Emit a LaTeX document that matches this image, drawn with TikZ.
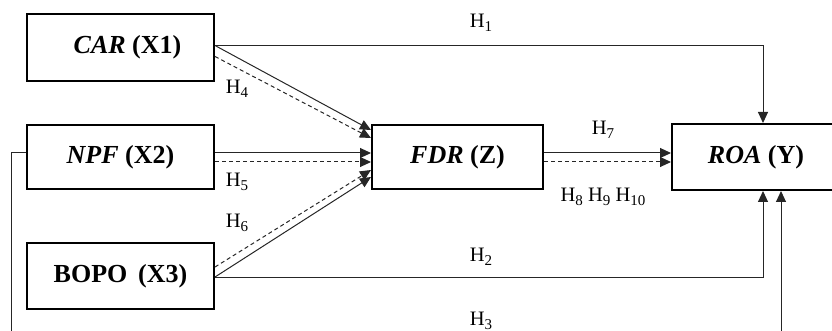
\documentclass[tikz,border=0pt]{standalone}
\usepackage{fontspec}
\setmainfont{Liberation Serif}
\usetikzlibrary{arrows.meta}
\newcommand\Hs[1]{H\raisebox{-3.5pt}{\fontsize{15}{15}\selectfont #1}}
\tikzset{
  box/.style={draw, line width=2pt, inner sep=0pt, font=\fontsize{26}{30}\selectfont\bfseries},
  conn/.style={line width=1pt, draw=black!85, -{Triangle[length=11pt,width=10pt]}},
  dconn/.style={conn, dash pattern=on 4pt off 3pt},
  hlab/.style={font=\fontsize{20.5}{22}\selectfont, inner sep=0pt}
}
\begin{document}
\begin{tikzpicture}[x=1pt,y=-1pt]
\useasboundingbox (0,0) rectangle (832,331);
\node[box, minimum width=187pt, minimum height=67pt] (car) at (120.5,47.5) {\hspace{14pt}\textit{CAR} (X1)};
\node[box, minimum width=187pt, minimum height=64pt] (npf) at (120.5,157) {\textit{NPF} (X2)};
\node[box, minimum width=187pt, minimum height=66pt] (bopo) at (120.5,276) {BOPO\, (X3)};
\node[box, minimum width=171pt, minimum height=64pt] (fdr) at (457.5,157) {\textit{FDR} (Z)};
\node[box, minimum width=168pt, minimum height=66pt] (roa) at (756,157) {\textit{ROA} (Y)};
\coordinate (h3a) at (11,345);
% H1
\draw[conn] ([yshift=2pt]car.east) -| ([xshift=7pt]roa.north);
% H2
\draw[conn] ([yshift=-1pt]bopo.east) -| ([xshift=7pt]roa.south);
% H3
\draw[conn] ([yshift=4pt]npf.west) -| (h3a) -| ([xshift=25pt]roa.south);
% to FDR
\draw[conn] ([yshift=2pt]car.east) -- ([yshift=27pt]fdr.west);
\draw[dconn] ([yshift=-9pt]car.east) -- ([yshift=19pt]fdr.west);
\draw[conn] ([yshift=4pt]npf.east) -- ([yshift=4pt]fdr.west);
\draw[dconn] ([yshift=-5pt]npf.east) -- ([yshift=-5pt]fdr.west);
\draw[dconn] ([yshift=9pt]bopo.east) -- ([yshift=-13pt]fdr.west);
\draw[conn] ([yshift=-1pt]bopo.east) -- ([yshift=-20pt]fdr.west);
% FDR to ROA
\draw[conn] ([yshift=4pt]fdr.east) -- ([yshift=4pt]roa.west);
\draw[dconn] ([yshift=-5pt]fdr.east) -- ([yshift=-5pt]roa.west);
% labels
\node[hlab] (l1) at (481,23) {\Hs{1}};
\node[hlab] (l2) at (481,257) {\Hs{2}};
\node[hlab] (l3) at (481,321) {\Hs{3}};
\node[hlab] (l4) at (237,89) {\Hs{4}};
\node[hlab] (l5) at (237,182) {\Hs{5}};
\node[hlab] (l6) at (237,223) {\Hs{6}};
\node[hlab] (l7) at (603,130) {\Hs{7}};
\node[hlab] (l8) at (603,197) {\Hs{8} \Hs{9} \Hs{10}};
\end{tikzpicture}
\end{document}
